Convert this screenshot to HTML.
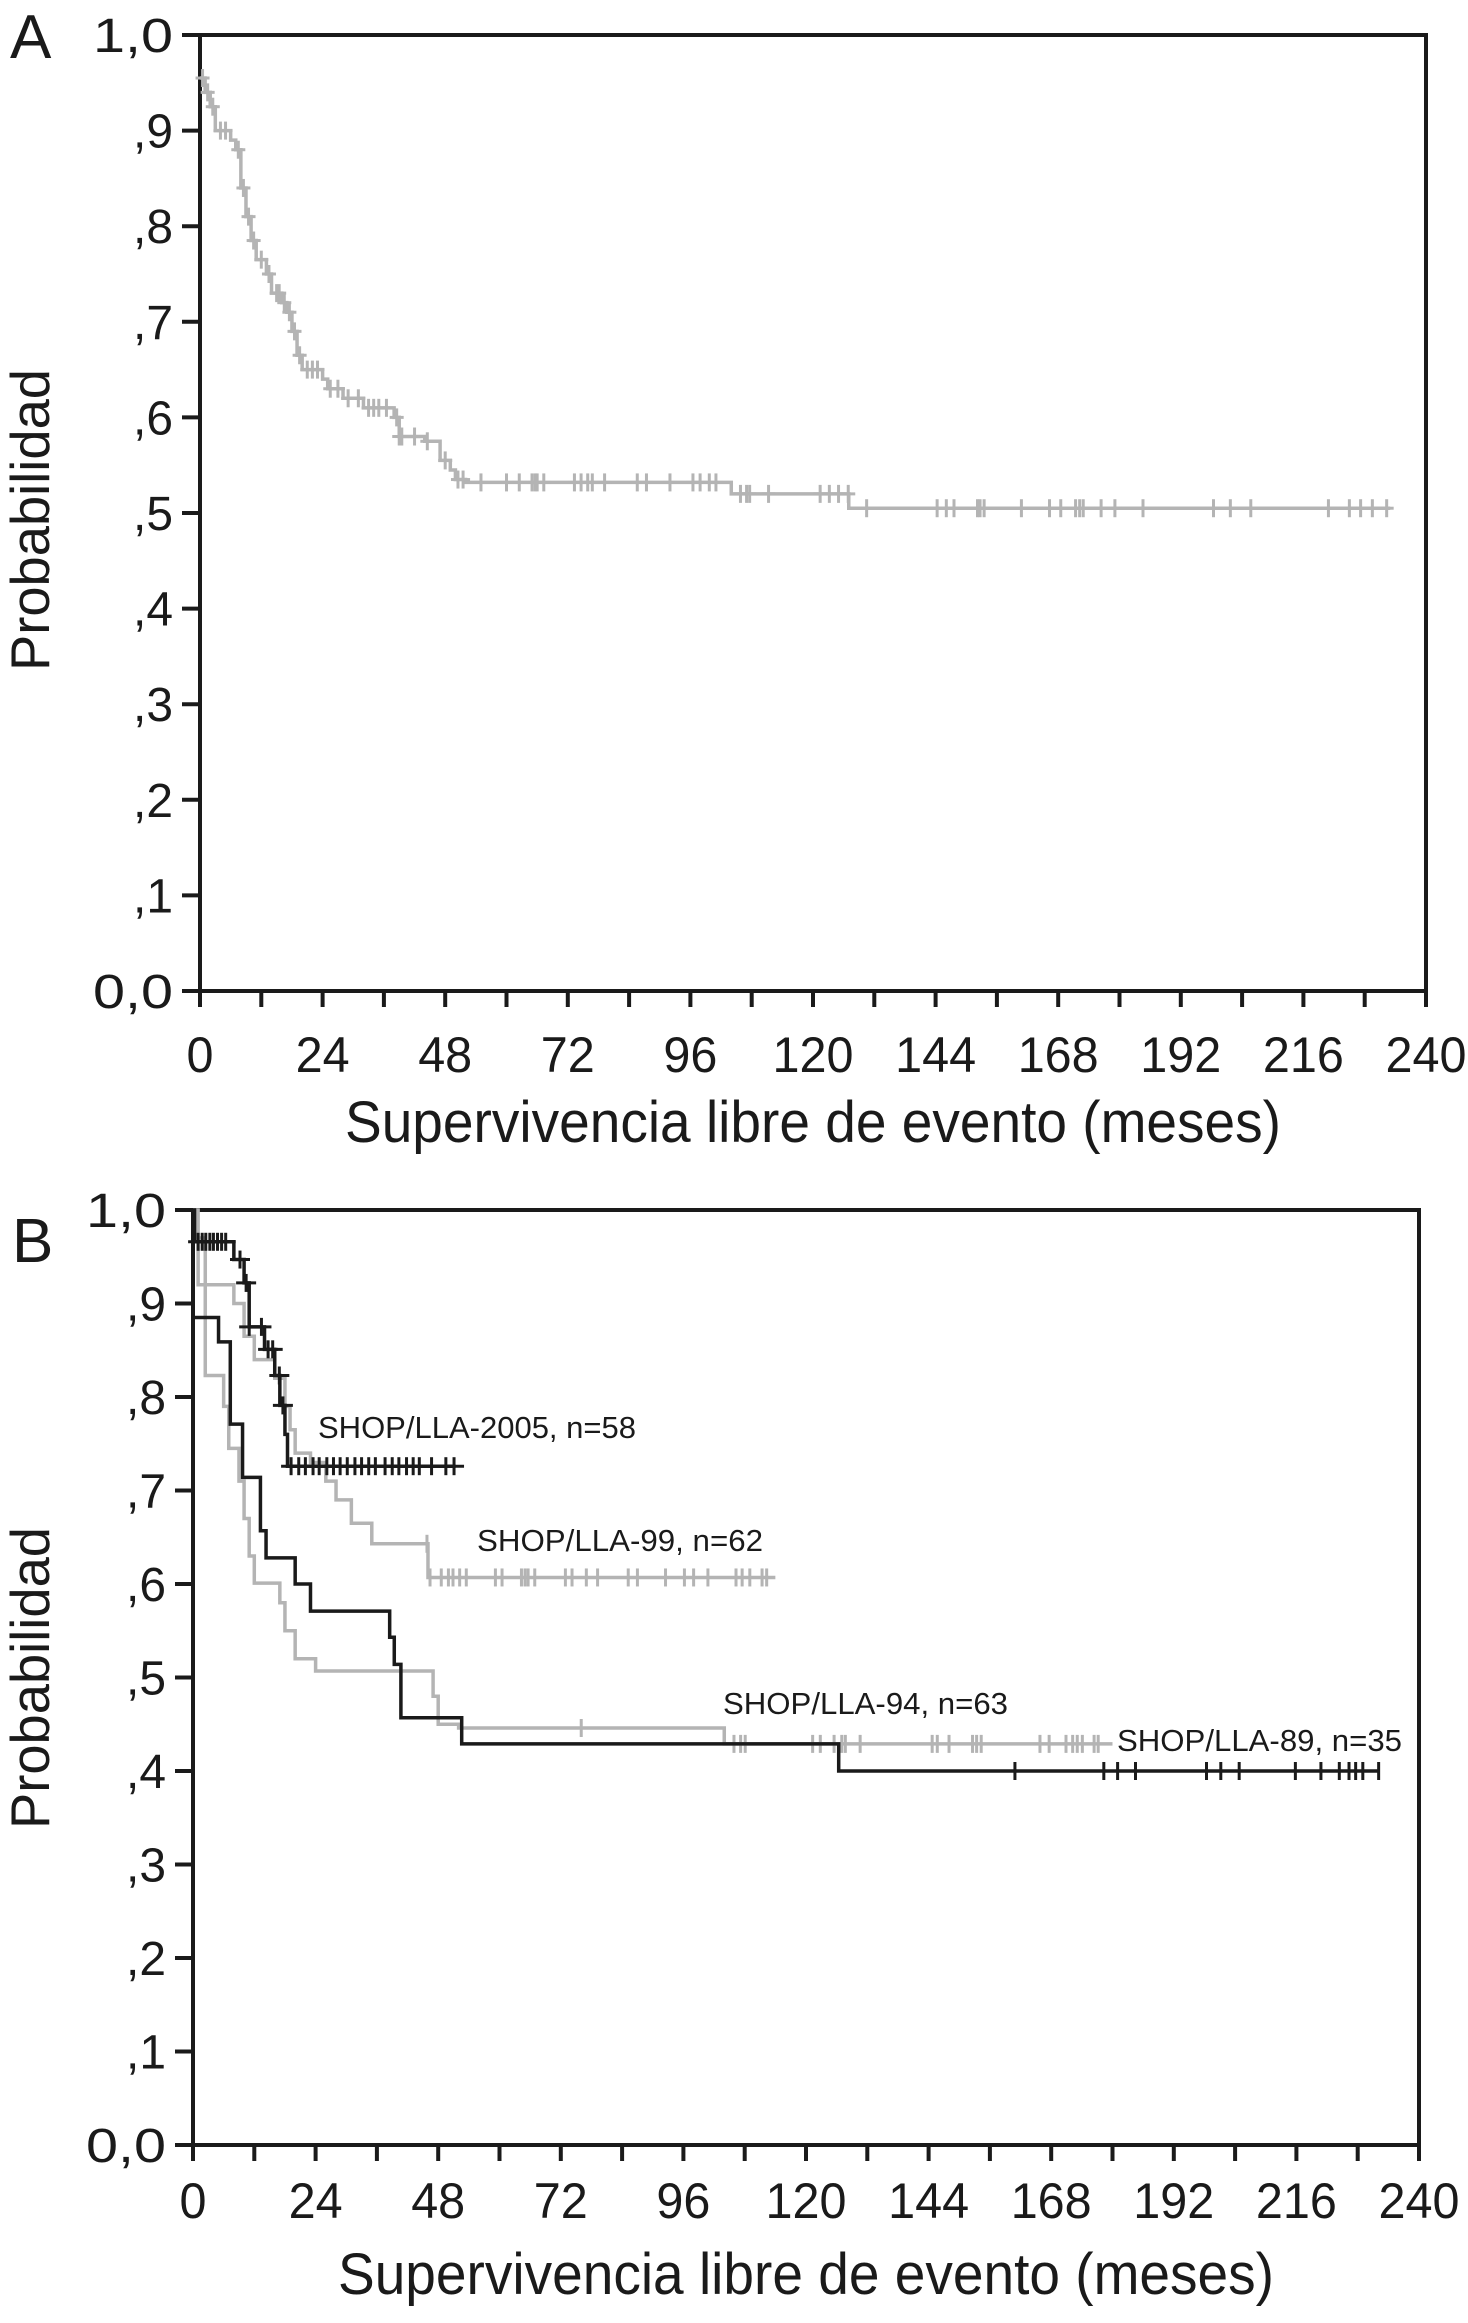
<!DOCTYPE html>
<html><head><meta charset="utf-8"><style>
html,body{margin:0;padding:0;background:#fff}
svg{display:block}
text{font-family:"Liberation Sans",sans-serif;fill:#1a1a1a}
</style></head><body>
<svg id="chart" width="1468" height="2323" viewBox="0 0 1468 2323"></svg>
<script>
// ---- Panel A data ----
const aTimes=[0,1,2,3,6,7,8,9,10,11,13,14,16,17,18,19,20,24,25,28,32,38,39,44,47,49,50,52,104,127,233];
const aProbs=[0.955,0.94,0.925,0.90,0.89,0.88,0.84,0.81,0.785,0.765,0.75,0.73,0.72,0.71,0.69,0.665,0.65,0.64,0.63,0.62,0.61,0.60,0.58,0.575,0.555,0.545,0.535,0.532,0.52,0.505,0.505];
const aCensor=[0.5,1.5,2.5,4,5,7.5,8.5,9.5,10.5,12,13.5,15,15.5,16.5,17.5,18.5,19.5,21,22,23,25.5,27,29,31,33,34,35,36.5,38.5,39,39.5,42,44.5,48,50.5,51.5,55,60,62.5,65,65.6,66,67.3,73.3,74.6,75.9,76.8,79.2,85.6,87.4,92,96.5,97.9,99.7,101,105.8,107,107.6,111.3,121.4,123.2,125,126.9,130.5,144.3,146.1,147.6,152.2,152.7,153.5,160.8,166.3,168.5,171.4,172.2,172.9,176.4,179.1,184.6,198.4,201.7,205.7,220.9,225,227.2,229.5,232.3];
// ---- Panel B data ----
const b05Times=[0,0.3,8,10,11,14,16,17,18,18.5,51];
const b05Probs=[1.0,0.966,0.947,0.922,0.875,0.851,0.823,0.791,0.760,0.726,0.726];
const b05Censor=[1,1.8,2.5,3.3,4,4.8,5.6,6.4,9.2,10.4,11,13.4,14.7,15.6,16.9,17.6,19.2,20.7,22,23.5,24.7,26.2,27.5,28.8,30.2,31.7,33,34.4,35.7,37.6,39,40.3,41.8,43.1,44.3,46.7,49.5,51.1];
const b99Times=[0,1,8,10,12,16,18,19,20,23,26,28,31,35,46,114];
const b99Probs=[1.0,0.92,0.90,0.865,0.84,0.82,0.79,0.765,0.74,0.73,0.71,0.69,0.665,0.643,0.607,0.607];
const b99Censor=[45.8,46.4,48.6,50.0,50.9,52.2,53.5,59.2,60.5,64.3,65.0,65.6,66.9,72.9,74.2,77.0,79.2,85.2,87.0,92.5,96.2,98.0,100.8,106.3,107.5,109.0,111.4,112.3];
const b94Times=[0,0.5,2.4,6,7,9,10,11,12,17,18,20,24,47,48,52,104,180];
const b94Probs=[1.0,0.97,0.823,0.79,0.745,0.71,0.67,0.63,0.601,0.58,0.55,0.52,0.507,0.48,0.45,0.446,0.429,0.429];
const b94Censor=[76,105.9,107.2,108.1,121.3,122.8,125.5,127.0,127.7,130.6,144.7,145.7,148.0,152.6,153.4,154.3,165.8,167.6,170.9,172.2,173.1,174.1,176.4,177.2];
const b89Times=[0,5,7.3,9.7,13.2,14.3,20,23,38.5,39.4,40.7,52.6,126.4,232];
const b89Probs=[0.885,0.859,0.771,0.714,0.657,0.628,0.60,0.571,0.543,0.514,0.457,0.429,0.40,0.40];
const b89Censor=[160.9,178.3,181.0,184.5,198.4,201.2,204.8,215.8,220.8,224.4,226.3,227.6,229.0,232.1];
const xTicks=[0,24,48,72,96,120,144,168,192,216,240];
const yTickLabels=["0,0",",1",",2",",3",",4",",5",",6",",7",",8",",9","1,0"];

const NS="http://www.w3.org/2000/svg";
const svg=document.getElementById('chart');
function mk(tag,attrs,parent){const e=document.createElementNS(NS,tag);for(const k in attrs)e.setAttribute(k,attrs[k]);(parent||svg).appendChild(e);return e;}

function panel(P){
  const g=mk('g',{});
  
  
  const sx=t=>P.x0+(P.x1-P.x0)*t/240;
  const sy=p=>P.yb+(P.yt-P.yb)*p;
  const fr=mk('rect',{x:P.x0,y:P.yt,width:P.x1-P.x0,height:P.yb-P.yt,fill:'none',stroke:'#1a1a1a','stroke-width':4},g);
  
  
  for(let i=0;i<=10;i++){
    const y=sy(i/10);
    mk('line',{x1:P.x0-18,x2:P.x0,y1:y,y2:y,stroke:'#1a1a1a','stroke-width':4},g);
    const lab=yTickLabels[i];
    const w=lab.length===3?80:40;
    const t=mk('text',{x:P.ylabR,y:y+17,'font-size':48,'text-anchor':'end',textLength:w,lengthAdjust:'spacingAndGlyphs'},g);
    t.textContent=lab;
    
    
  }
  for(let m=0;m<=240;m+=12){
    const x=sx(m);
    mk('line',{x1:x,x2:x,y1:P.yb,y2:P.yb+16,stroke:'#1a1a1a','stroke-width':4},g);
  }
  xTicks.forEach(v=>{
    const s=String(v);
    const w=s.length*27;
    const t=mk('text',{x:sx(v),y:P.xlabY,'font-size':50,'text-anchor':'middle',textLength:w,lengthAdjust:'spacingAndGlyphs'},g);
    t.textContent=s;
    
    
  });
  const xt=mk('text',{x:(P.x0+P.x1)/2,y:P.xtitleY,'font-size':58,'text-anchor':'middle',textLength:936,lengthAdjust:'spacingAndGlyphs'},g);
  xt.textContent='Supervivencia libre de evento (meses)';
  
  
  const yt=mk('text',{x:0,y:0,'font-size':55,'text-anchor':'middle',transform:`translate(49,${P.ytitleC}) rotate(-90)`,textLength:302,lengthAdjust:'spacingAndGlyphs'},g);
  yt.textContent='Probabilidad';
  
  
  const pl=mk('text',{x:P.letterX,y:P.letterY,'font-size':62},g);
  pl.textContent=P.letter;
  
  
  return {g,sx,sy};
}

function curve(ax,times,probs,censor,color,name,arm){
  const g=mk('g',{},ax.g);
  
  
  let d=`M${ax.sx(times[0])},${ax.sy(probs[0])}`;
  for(let i=1;i<times.length;i++){
    d+=` H${ax.sx(times[i])} V${ax.sy(probs[i])}`;
  }
  const p=mk('path',{d:d,fill:'none',stroke:color,'stroke-width':3.5},g);
  
  
  const probAt=t=>{let v=probs[0];for(let i=0;i<times.length;i++){if(times[i]<=t)v=probs[i];}return v;};
  censor.forEach(t=>{
    const x=ax.sx(t),y=ax.sy(probAt(t));
    const m=mk('line',{x1:x,x2:x,y1:y-9,y2:y+9,stroke:color,'stroke-width':3},g);
    
    
    if(arm){mk('line',{x1:x-arm,x2:x+arm,y1:y,y2:y,stroke:color,'stroke-width':3},g);}
  });
}

const A=panel({name:'panel-a',x0:200,x1:1426,yt:35,yb:991,ylabR:173,xlabY:1072,xtitleY:1142,ytitleC:520,letter:'A',letterX:10,letterY:58});
curve(A,aTimes,aProbs,aCensor,'#b4b4b4','survival-curve-a',7);

const B=panel({name:'panel-b',x0:193,x1:1419,yt:1210,yb:2145,ylabR:166,xlabY:2218,xtitleY:2294,ytitleC:1678,letter:'B',letterX:12,letterY:1262});
curve(B,b94Times,b94Probs,b94Censor,'#b4b4b4','curve-lla-94',0);
curve(B,b99Times,b99Probs,b99Censor,'#b4b4b4','curve-lla-99',0);
curve(B,b89Times,b89Probs,b89Censor,'#1a1a1a','curve-lla-89',0);
curve(B,b05Times,b05Probs,b05Censor,'#1a1a1a','curve-lla-2005',10);

const labels=[["SHOP/LLA-2005, n=58",318,1438,318],["SHOP/LLA-99, n=62",477,1551,286],["SHOP/LLA-94, n=63",723,1714,285],["SHOP/LLA-89, n=35",1117,1751,285]];
labels.forEach(l=>{
  const t=mk('text',{x:l[1],y:l[2],'font-size':31,textLength:l[3],lengthAdjust:'spacingAndGlyphs'},B.g);
  t.textContent=l[0];
  
  
});
</script>
</body></html>
